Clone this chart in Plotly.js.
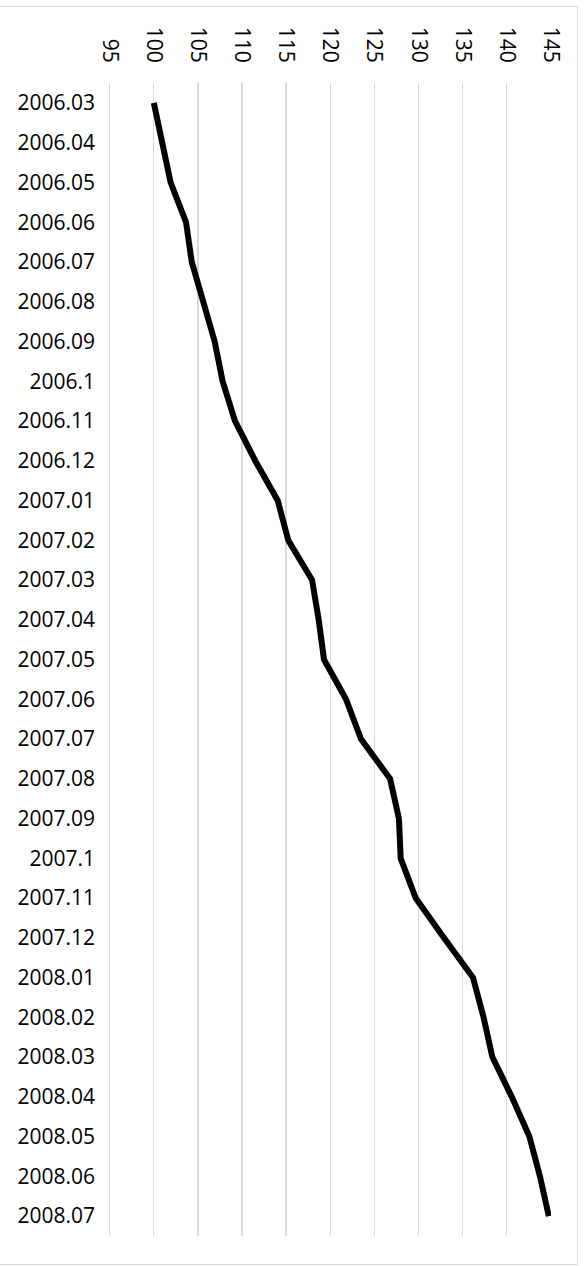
<!DOCTYPE html>
<html>
<head>
<meta charset="utf-8">
<script src="https://cdn.plot.ly/plotly-3.0.1.min.js"></script>
<style>
html,body{margin:0;padding:0;background:#fff;}
#wrap{position:absolute;left:-2px;top:6px;width:580px;height:1259px;border:1.5px solid #d9d9d9;box-sizing:border-box;}
#chart{position:absolute;left:0;top:0;width:584px;height:1266px;}
</style>
</head>
<body>
<div id="wrap"></div>
<div id="chart"></div>
<script>
const categories = ["2006.03","2006.04","2006.05","2006.06","2006.07","2006.08","2006.09","2006.1","2006.11","2006.12",
"2007.01","2007.02","2007.03","2007.04","2007.05","2007.06","2007.07","2007.08","2007.09","2007.1","2007.11","2007.12",
"2008.01","2008.02","2008.03","2008.04","2008.05","2008.06","2008.07"];
const values = [100.0,100.95,101.9,103.65,104.3,105.6,106.9,107.8,109.2,111.5,
114.05,115.25,117.95,118.7,119.3,121.8,123.5,126.8,127.8,128.0,129.7,132.9,
136.2,137.4,138.4,140.6,142.6,143.8,144.8];
const xTicks = [95,100,105,110,115,120,125,130,135,140,145];

const trace = {
  type: 'scatter', mode: 'lines',
  x: values, y: categories,
  line: {color: '#000000', width: 6, shape: 'linear'},
  hoverinfo: 'skip'
};
const layout = {
  width: 584, height: 1266,
  margin: {l: 108, r: 33, t: 83, b: 30},
  paper_bgcolor: 'rgba(0,0,0,0)', plot_bgcolor: 'rgba(0,0,0,0)',
  showlegend: false,
  font: {family: 'Open Sans, sans-serif', size: 21, color: '#000000'},
  xaxis: {
    side: 'top', range: [94.8, 145.05], tickvals: xTicks, ticktext: xTicks.map(String),
    tickangle: 90, showgrid: true, gridcolor: '#d9d9d9', gridwidth: 1.3,
    zeroline: false, showline: false, ticks: '', ticklabelstandoff: 16,
    tickfont: {family: 'Open Sans, sans-serif', size: 21, color: '#000'}
  },
  yaxis: {
    type: 'category', categoryorder: 'array', categoryarray: categories,
    range: [28.5, -0.5], showgrid: false, zeroline: false, showline: false,
    ticks: '', ticklabelstandoff: 12,
    tickfont: {family: 'Open Sans, sans-serif', size: 21, color: '#000'}
  }
};
Plotly.newPlot('chart', [trace], layout, {displayModeBar: false, staticPlot: true});
</script>
</body>
</html>
